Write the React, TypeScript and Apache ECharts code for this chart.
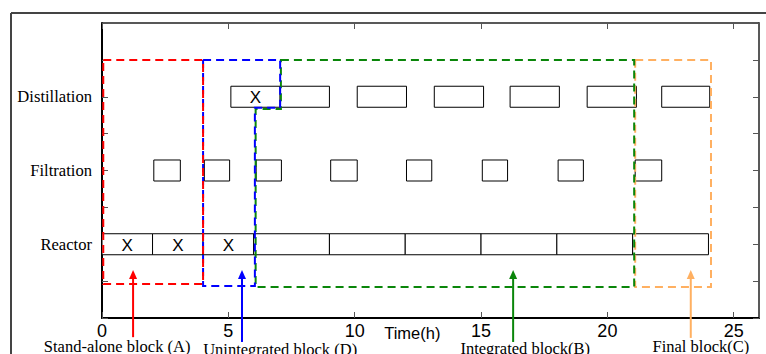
import React, { useEffect, useRef } from 'react';
import * as echarts from 'echarts';

// rows (y positions on the value axis)
const ROW_REACTOR = 2;
const ROW_FILTRATION = 4;
const ROW_DISTILLATION = 6;
const ROW_LABELS: Record<number, string> = { 2: 'Reactor', 4: 'Filtration', 6: 'Distillation' };

// reactor batches (h)
const REACTOR_START = [0, 2, 4, 6, 9, 12, 15, 18, 21];
const REACTOR_END = [2, 4, 6, 9, 12, 15, 18, 21, 24];
const REACTOR_MARK = [1, 1, 1, 0, 0, 0, 0, 0, 0];
// filtration batches (h)
const FILTRATION_START = [2.05, 4.05, 6.1, 9.05, 12.05, 15.05, 18.05, 21.1];
const FILTRATION_END = [3.1, 5.05, 7.1, 10.1, 13.05, 16.05, 19.05, 22.15];
// distillation batches (h)
const DISTILLATION_START = [5.1, 7.05, 10.1, 13.15, 16.15, 19.2, 22.15];
const DISTILLATION_END = [7.05, 9.0, 12.05, 15.1, 18.1, 21.15, 24.05];
const DISTILLATION_MARK = [1, 0, 0, 0, 0, 0, 0];

const BOX_HEIGHT = 0.57;

// dashed block outlines [time, y]
const BLOCK_C = [[21.1, 7], [24.1, 7], [24.1, 0.84], [21.1, 0.84]];
const BLOCK_B = [[7.08, 7], [21.06, 7], [21.06, 0.84], [6.08, 0.84], [6.08, 5.67], [7.08, 5.67]];
const BLOCK_D = [[4, 7], [7.05, 7], [7.05, 5.7], [6.05, 5.7], [6.05, 0.87], [4, 0.87]];
const BLOCK_A = [[0.05, 7], [4, 7], [4, 0.92], [0.05, 0.92]];
const BLOCKS = [BLOCK_C, BLOCK_B, BLOCK_D, BLOCK_A];
const BLOCK_COLORS = ['#ffb061', '#0a860a', '#0000ff', '#ff0000'];

// annotations
const NOTE_TEXT = ['Stand-alone block (A)', 'Unintegrated block (D)', 'Integrated block(B)', 'Final block(C)'];
const NOTE_COLORS = ['#ff0000', '#0000ff', '#0a860a', '#ffb061'];
const ARROW_X = [1.23, 5.54, 16.27, 23.3];
const ARROW_TOP = 1.3;
const ARROW_BOTTOM = [-0.52, -0.65, -0.65, -0.54];
const NOTE_X = [0.6, 7.05, 16.75, 23.7];
const NOTE_Y = [-0.76, -0.86, -0.83, -0.76];

// axis title
const X_TITLE = 'Time(h)';
const X_TITLE_POS = [12.28, -0.41];

function boxData() {
  const d: number[][] = [];
  REACTOR_START.forEach((s, i) => d.push([s, REACTOR_END[i], ROW_REACTOR, REACTOR_MARK[i]]));
  FILTRATION_START.forEach((s, i) => d.push([s, FILTRATION_END[i], ROW_FILTRATION, 0]));
  DISTILLATION_START.forEach((s, i) => d.push([s, DISTILLATION_END[i], ROW_DISTILLATION, DISTILLATION_MARK[i]]));
  return d;
}

export default function App() {
  const ref = useRef<HTMLDivElement>(null);
  useEffect(() => {
    if (!ref.current) return;
    const chart = echarts.init(ref.current, null, { renderer: 'svg' });

    const renderBox = (params: any, api: any) => {
      const s = api.value(0), e = api.value(1), row = api.value(2), mark = api.value(3);
      const p0 = api.coord([s, row]);
      const p1 = api.coord([e, row]);
      const h = api.size([0, BOX_HEIGHT])[1];
      const children: any[] = [
        {
          type: 'rect',
          shape: { x: p0[0], y: p0[1] - h / 2, width: p1[0] - p0[0], height: h },
          style: { fill: '#fff', stroke: '#000', lineWidth: 1 },
        },
      ];
      if (mark) {
        children.push({
          type: 'text',
          x: (p0[0] + p1[0]) / 2,
          y: p0[1] + 1,
          style: { text: 'X', fontSize: 17, fontFamily: 'Liberation Sans', fill: '#000', align: 'center', verticalAlign: 'middle' },
        });
      }
      return { type: 'group', children };
    };

    const renderBlock = (params: any, api: any) => {
      const idx = api.value(2);
      const pts = BLOCKS[idx].map((p) => api.coord(p));
      return {
        type: 'polygon',
        shape: { points: pts },
        style: { fill: 'none', stroke: BLOCK_COLORS[idx], lineWidth: 2, lineDash: [8, 5] },
      };
    };

    const renderNote = (params: any, api: any) => {
      const i = api.value(2);
      const top = api.coord([ARROW_X[i], ARROW_TOP]);
      const bot = api.coord([ARROW_X[i], ARROW_BOTTOM[i]]);
      const txt = api.coord([NOTE_X[i], NOTE_Y[i]]);
      const c = NOTE_COLORS[i];
      return {
        type: 'group',
        children: [
          { type: 'line', shape: { x1: bot[0], y1: bot[1], x2: top[0], y2: top[1] + 6 }, style: { stroke: c, lineWidth: 2 } },
          {
            type: 'polygon',
            shape: { points: [[top[0], top[1]], [top[0] - 4, top[1] + 9], [top[0] + 4, top[1] + 9]] },
            style: { fill: c },
          },
          {
            type: 'text',
            x: txt[0],
            y: txt[1],
            style: { text: NOTE_TEXT[i], fontSize: 16.5, fontFamily: 'Liberation Serif', fill: '#000', align: 'center', verticalAlign: 'middle' },
          },
        ],
      };
    };

    const renderTitle = (params: any, api: any) => {
      const p = api.coord([api.value(0), api.value(1)]);
      return {
        type: 'text',
        x: p[0],
        y: p[1],
        style: { text: X_TITLE, fontSize: 16.5, fontFamily: 'Liberation Sans', fill: '#000', align: 'center', verticalAlign: 'middle' },
      };
    };

    const option: any = {
      animation: false,
      backgroundColor: '#fff',
      grid: { left: 102, right: 7, top: 23, bottom: 36, containLabel: false, outerBoundsMode: 'none' },
      graphic: [
        { type: 'line', shape: { x1: 11, y1: 13, x2: 766, y2: 13 }, style: { stroke: '#444', lineWidth: 2 }, silent: true },
        { type: 'line', shape: { x1: 11, y1: 13, x2: 11, y2: 354 }, style: { stroke: '#444', lineWidth: 2 }, silent: true },
      ],
      xAxis: [
        {
          type: 'value', min: 0, max: 26, interval: 5, position: 'bottom',
          axisLine: { show: true, onZero: false, lineStyle: { color: '#000', width: 2 } },
          axisTick: { show: true, inside: true, length: 6, lineStyle: { color: '#555' } },
          axisLabel: {
            fontSize: 18, fontFamily: 'Liberation Sans', color: '#000', margin: 4,
            formatter: (v: number) => (v === 26 ? '' : String(v)),
          },
          splitLine: { show: false },
        },
        {
          type: 'value', min: 0, max: 26, interval: 5, position: 'top',
          axisLine: { show: true, onZero: false, lineStyle: { color: '#222', width: 1.5 } },
          axisTick: { show: true, inside: true, length: 6, lineStyle: { color: '#555' } },
          axisLabel: { show: false },
          splitLine: { show: false },
        },
      ],
      yAxis: [
        {
          type: 'value', min: 0, max: 8, interval: 1, position: 'left',
          axisLine: { show: true, onZero: false, lineStyle: { color: '#000', width: 2 } },
          axisTick: { show: true, inside: true, length: 6, lineStyle: { color: '#555' } },
          axisLabel: {
            fontSize: 16.6, fontFamily: 'Liberation Serif', color: '#000', margin: 10,
            formatter: (v: number) => ROW_LABELS[v] || '',
          },
          splitLine: { show: false },
        },
        {
          type: 'value', min: 0, max: 8, interval: 1, position: 'right',
          axisLine: { show: true, onZero: false, lineStyle: { color: '#222', width: 1.5 } },
          axisTick: { show: true, inside: true, length: 6, lineStyle: { color: '#555' } },
          axisLabel: { show: false },
          splitLine: { show: false },
        },
      ],
      series: [
        {
          type: 'custom', name: 'batches', xAxisIndex: 0, yAxisIndex: 0,
          renderItem: renderBox, data: boxData(), encode: { x: [0, 1], y: 2 }, z: 2,
        },
        {
          type: 'custom', name: 'blocks', xAxisIndex: 0, yAxisIndex: 0,
          renderItem: renderBlock, data: BLOCKS.map((b, i) => [b[0][0], b[0][1], i]), encode: { x: 0, y: 1 }, z: 3,
        },
        {
          type: 'custom', name: 'notes', xAxisIndex: 0, yAxisIndex: 0, clip: false,
          renderItem: renderNote, data: ARROW_X.map((x, i) => [x, ARROW_TOP, i]), encode: { x: 0, y: 1 }, z: 4,
        },
        {
          type: 'custom', name: 'axisTitle', xAxisIndex: 0, yAxisIndex: 0, clip: false,
          renderItem: renderTitle, data: [X_TITLE_POS], encode: { x: 0, y: 1 }, z: 4,
        },
      ],
    };
    chart.setOption(option);
    return () => chart.dispose();
  }, []);
  return <div ref={ref} style={{ position: 'fixed', left: 0, top: 0, width: 766, height: 354 }} />;
}
